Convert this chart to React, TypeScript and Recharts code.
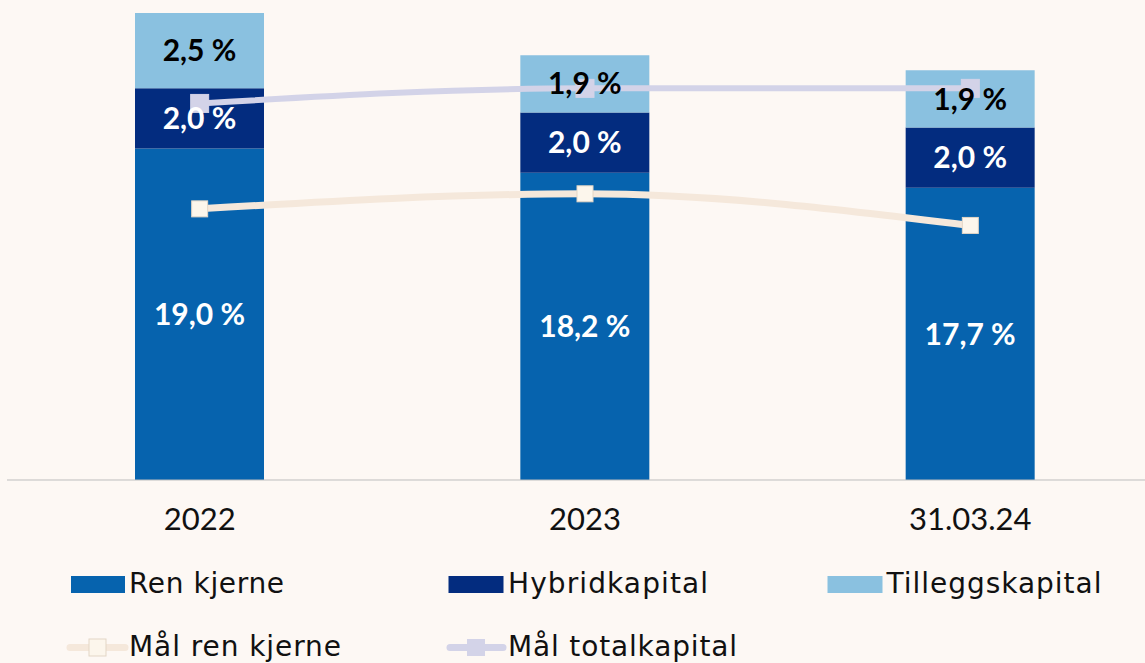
import React from 'react';
import { ComposedChart, Bar, Line, XAxis, YAxis, LabelList, Legend } from 'recharts';

const categories = ['2022', '2023', '31.03.24'];
const renKjerne = [19.0, 18.2, 17.7];
const hybridkapital = [2.0, 2.0, 2.0];
const tilleggskapital = [2.5, 1.9, 1.9];
const malRenKjerne = [17.0, 17.5, 16.45];
const malTotalkapital = [20.5, 21.0, 21.0];

const data = categories.map((name, i) => ({
  name,
  ren: renKjerne[i],
  hybrid: hybridkapital[i],
  tillegg: tilleggskapital[i],
  malRen: malRenKjerne[i],
  malTotal: malTotalkapital[i],
}));

const BG = '#FDF8F4';
const C_REN = '#0663AE';
const C_HYB = '#032C7F';
const C_TIL = '#8AC1E0';
const C_MALREN = '#F5E8DB';
const C_MALREN_DOT = '#FCF6EC';
const C_MALTOT = '#D3D3E8';

const fmt = (v: any) => Number(v).toFixed(1).replace('.', ',') + ' %';

const squareDot = (fill: string, stroke: string, size: number) => (props: any) => {
  const { cx, cy, index } = props;
  if (cx == null || cy == null) return <g key={`d${index}`} />;
  return (
    <rect
      key={`d${index}`}
      x={cx - size / 2}
      y={cy - size / 2}
      width={size}
      height={size}
      fill={fill}
      stroke={stroke}
      strokeWidth={1}
    />
  );
};

const LEGEND_FONT = "'DejaVu Sans', sans-serif";

const LegendContent = () => (
  <svg width={1145} height={108} style={{ display: 'block' }}>
    {/* row 1 */}
    <rect x={71} y={21} width={54} height={17} fill={C_REN} />
    <text x={129} y={38} fontSize={28} fontFamily={LEGEND_FONT} fill="#111" textLength={155}>Ren kjerne</text>
    <rect x={448.5} y={21} width={55} height={17} fill={C_HYB} />
    <text x={508} y={38} fontSize={28} fontFamily={LEGEND_FONT} fill="#111" textLength={200}>Hybridkapital</text>
    <rect x={827.5} y={21} width={55} height={17} fill={C_TIL} />
    <text x={886.5} y={38} fontSize={28} fontFamily={LEGEND_FONT} fill="#111" textLength={215}>Tilleggskapital</text>
    {/* row 2 */}
    <line x1={70} x2={125} y1={92.5} y2={92.5} stroke={C_MALREN} strokeWidth={7} strokeLinecap="round" />
    <rect x={89} y={84} width={17} height={17} fill={C_MALREN_DOT} stroke="#E3D6C6" strokeWidth={1} />
    <text x={129} y={101} fontSize={28} fontFamily={LEGEND_FONT} fill="#111" textLength={212}>Mål ren kjerne</text>
    <line x1={450} x2={503} y1={92.5} y2={92.5} stroke={C_MALTOT} strokeWidth={7} strokeLinecap="round" />
    <rect x={467} y={84} width={18} height={17} fill={C_MALTOT} />
    <text x={508} y={101} fontSize={28} fontFamily={LEGEND_FONT} fill="#111" textLength={229}>Mål totalkapital</text>
  </svg>
);

const labelStyle = { fontSize: 30, fontWeight: 700, fontFamily: "Lato, sans-serif" };

export default function App() {
  return (
    <div
      style={{
        position: 'absolute',
        left: 0,
        top: 0,
        width: 1145,
        height: 663,
        overflow: 'hidden',
        background: BG,
      }}
    >
      <ComposedChart
        width={1163}
        height={663}
        data={data}
        margin={{ top: 1, right: 0, left: 7, bottom: 123 }}
      >
        <XAxis
          dataKey="name"
          height={60}
          axisLine={{ stroke: '#BDBDBD', strokeWidth: 1 }}
          tickLine={false}
          tickMargin={22}
          tick={{ fontSize: 31, fill: '#111', fontFamily: 'Lato, sans-serif' }}
          interval={0}
        />
        <YAxis hide domain={[8, 23.9]} allowDataOverflow type="number" />
        <Bar dataKey="ren" stackId="a" fill={C_REN} barSize={129} isAnimationActive={false}>
          <LabelList dataKey="ren" position="center" formatter={fmt} fill="#FFFFFF" style={labelStyle} />
        </Bar>
        <Bar dataKey="hybrid" stackId="a" fill={C_HYB} barSize={129} isAnimationActive={false}>
          <LabelList dataKey="hybrid" position="center" formatter={fmt} fill="#FFFFFF" style={labelStyle} />
        </Bar>
        <Bar dataKey="tillegg" stackId="a" fill={C_TIL} barSize={129} isAnimationActive={false}>
          <LabelList dataKey="tillegg" position="center" formatter={fmt} fill="#000000" style={labelStyle} />
        </Bar>
        <Line
          dataKey="malRen"
          type="monotone"
          stroke={C_MALREN}
          strokeWidth={7}
          dot={squareDot(C_MALREN_DOT, '#E3D6C6', 16)}
          activeDot={false}
          isAnimationActive={false}
        />
        <Line
          dataKey="malTotal"
          type="monotone"
          stroke={C_MALTOT}
          strokeWidth={6}
          dot={squareDot(C_MALTOT, C_MALTOT, 18)}
          activeDot={false}
          isAnimationActive={false}
        />
        <Legend
          layout="horizontal"
          verticalAlign="middle"
          align="center"
          content={() => <LegendContent />}
          wrapperStyle={{ left: 0, top: 555, width: 1145, height: 108 }}
        />
      </ComposedChart>
    </div>
  );
}
